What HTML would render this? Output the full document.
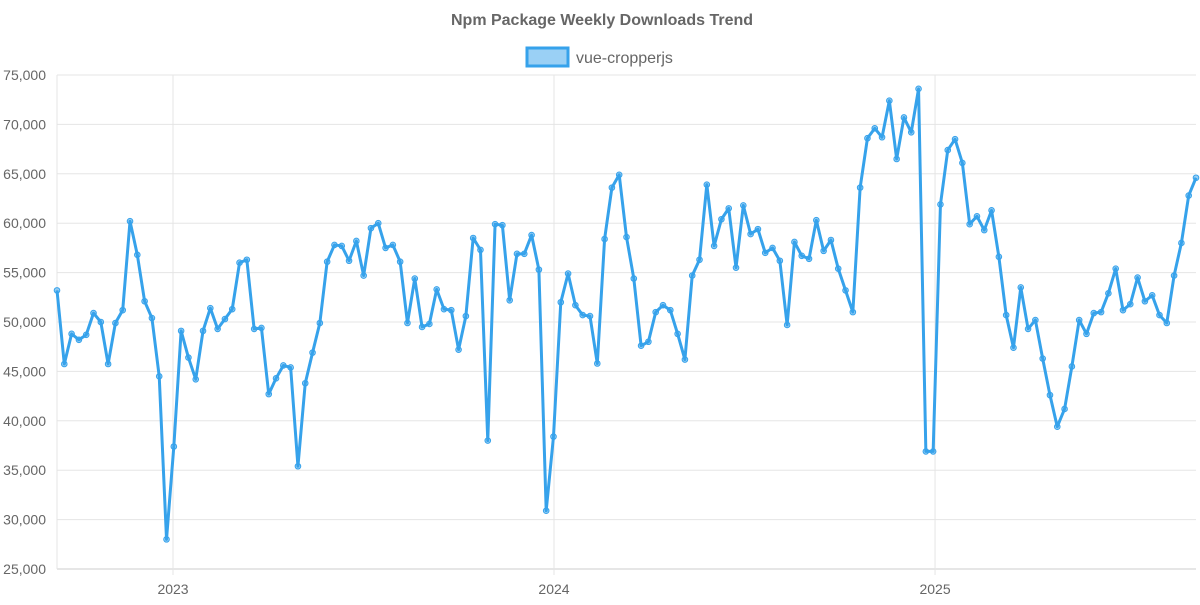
<!DOCTYPE html>
<html><head><meta charset="utf-8"><style>
body{margin:0;background:#fff;font-family:"Liberation Sans",sans-serif}
svg text{font-family:"Liberation Sans",sans-serif}
</style></head><body>
<svg id="chart" width="1200" height="600" xmlns="http://www.w3.org/2000/svg">
<text x="602" y="25" text-anchor="middle" font-size="16" font-weight="bold" fill="#666">Npm Package Weekly Downloads Trend</text>
<g>
<rect x="527" y="48" width="41" height="18" fill="rgba(54,162,235,0.5)" stroke="#36a2eb" stroke-width="3"/>
<text x="576" y="63" font-size="16" fill="#666">vue-cropperjs</text>
</g>
<g id="grid"></g><g id="axes"></g><g id="series"></g>
</svg>
<script>
const yTicks=[25000,30000,35000,40000,45000,50000,55000,60000,65000,70000,75000];
const yearLabels=["2023","2024","2025"];
const yearIndex=[15.89,68.07,120.26];
const downloads=[53200,45750,48800,48200,48700,50900,50000,45750,49900,51200,60200,56800,52100,50400,44500,28000,37400,49100,46400,44200,49100,51400,49300,50300,51300,56000,56300,49300,49400,42700,44300,45600,45400,35400,43800,46900,49900,56100,57800,57700,56200,58200,54700,59500,60000,57500,57800,56100,49900,54400,49500,49800,53300,51300,51200,47200,50600,58500,57300,38000,59900,59800,52200,56900,56900,58800,55300,30900,38400,52000,54900,51700,50700,50600,45800,58400,63600,64900,58600,54400,47600,48000,51000,51700,51200,48800,46200,54700,56300,63900,57700,60400,61500,55500,61800,58900,59400,57000,57500,56200,49700,58100,56700,56400,60300,57200,58300,55400,53200,51000,63600,68600,69600,68700,72400,66500,70700,69200,73600,36900,36900,61900,67400,68500,66100,59900,60700,59300,61300,56600,50700,47400,53500,49300,50200,46300,42600,39400,41200,45500,50200,48800,50900,51000,52900,55400,51200,51800,54500,52100,52700,50700,49900,54700,58000,62800,64600];
const X0=57,X1=1196,Y0=569,Y1=75;
const n=downloads.length;
const xs=i=>X0+(X1-X0)*i/(n-1);
const ys=v=>Y0-(v-25000)/50000*(Y0-Y1);
const NS="http://www.w3.org/2000/svg";
function mk(t,a,p){const e=document.createElementNS(NS,t);for(const k in a)e.setAttribute(k,a[k]);p.appendChild(e);return e;}
const grid=document.getElementById('grid'),axes=document.getElementById('axes'),ser=document.getElementById('series');
yTicks.forEach(v=>{
 const l=mk('line',{x1:X0,x2:X1,y1:ys(v),y2:ys(v),stroke:v===25000?'#ccc':'#e5e5e5'},grid);
 
 
 const t=mk('text',{x:46,y:ys(v)+5,'text-anchor':'end','font-size':14,fill:'#666'},axes);
 t.textContent=v.toLocaleString('en-US');
 
 
});
mk('line',{x1:X0,x2:X0,y1:Y1,y2:Y0,stroke:'#e5e5e5'},grid);
yearLabels.forEach((s,k)=>{
 const x=xs(yearIndex[k]);
 const l=mk('line',{x1:x,x2:x,y1:Y1,y2:Y0+6,stroke:'#e5e5e5'},grid);
 
 
 const t=mk('text',{x:x,y:594,'text-anchor':'middle','font-size':14,fill:'#666'},axes);
 t.textContent=s;
 
 
});
const path=mk('polyline',{points:downloads.map((v,i)=>xs(i)+','+ys(v)).join(' '),fill:'none',stroke:'#36a2eb','stroke-width':3,'stroke-linejoin':'round'},ser);


downloads.forEach((v,i)=>{
 const c=mk('circle',{cx:xs(i),cy:ys(v),r:2.8,fill:'rgba(54,162,235,0.5)',stroke:'#36a2eb','stroke-width':1},ser);
 
 
});
</script>
</body></html>
